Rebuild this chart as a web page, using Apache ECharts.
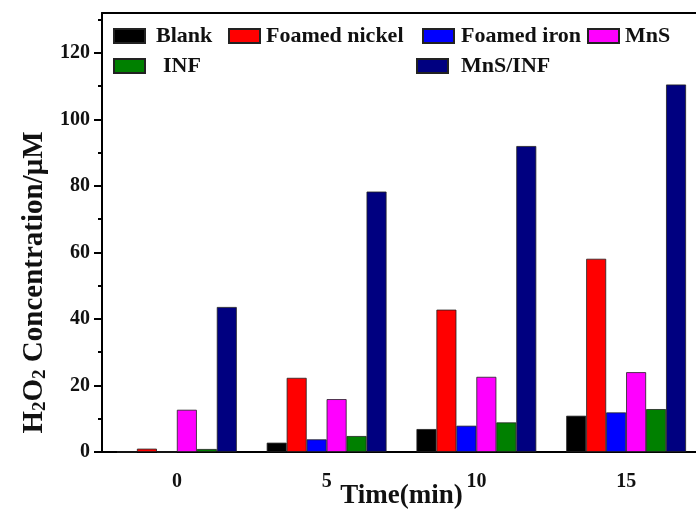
<!DOCTYPE html>
<html>
<head>
<meta charset="utf-8">
<script src="https://cdn.jsdelivr.net/npm/echarts@6/dist/echarts.min.js"></script>
<style>
html,body{margin:0;padding:0;background:#fff;}
#c{width:696px;height:515px;}
</style>
</head>
<body>
<div id="c"></div>
<script>
const categories = ['0', '5', '10', '15'];
const seriesNames = ['Blank', 'Foamed nickel', 'Foamed iron', 'MnS', 'INF', 'MnS/INF'];
const blank = [0, 2.8, 6.9, 10.9];
const foamedNickel = [1.0, 22.3, 42.8, 58.1];
const foamedIron = [0, 3.8, 7.9, 11.9];
const mns = [12.7, 15.9, 22.6, 24.0];
const inf = [0.9, 4.8, 8.9, 12.9];
const mnsInf = [43.6, 78.3, 92.0, 110.5];
const yTicks = [0, 20, 40, 60, 80, 100, 120];
const yMinorTicks = [10, 30, 50, 70, 90, 110, 130];

const seriesData = [blank, foamedNickel, foamedIron, mns, inf, mnsInf];
const colors = ['#000000', '#ff0000', '#0000ff', '#ff00ff', '#008000', '#000080'];
const FONT = "'Liberation Serif', 'Times New Roman', serif";

const legendPos = [
  {left: 113, top: 25, pad: 6},
  {left: 228, top: 25, pad: 1},
  {left: 422, top: 25, pad: 2},
  {left: 587, top: 25, pad: 1},
  {left: 113, top: 55, pad: 13},
  {left: 416, top: 55, pad: 8}
];

const chart = echarts.init(document.getElementById('c'), null, {renderer: 'canvas'});
chart.setOption({
  animation: false,
  backgroundColor: '#ffffff',
  grid: {left: 102, top: 13, width: 599, height: 439, containLabel: false, outerBoundsMode: 'none'},
  legend: seriesNames.map((n, i) => ({
    data: [n],
    left: legendPos[i].left,
    top: legendPos[i].top,
    padding: 0,
    itemWidth: 31,
    itemHeight: 14,
    selectedMode: false,
    icon: 'rect',
    textStyle: {fontFamily: FONT, fontWeight: 'bold', fontSize: 22, color: '#111', padding: [0, 0, 0, legendPos[i].pad]}
  })),
  xAxis: [
    {
      type: 'category',
      data: categories,
      position: 'bottom',
      axisLine: {lineStyle: {color: '#000', width: 2}},
      axisTick: {alignWithLabel: true, length: 8, lineStyle: {color: '#000', width: 2}},
      axisLabel: {fontFamily: FONT, fontWeight: 'bold', fontSize: 20, color: '#111', margin: 20},
      name: 'Time(min)',
      nameLocation: 'middle',
      nameGap: 31,
      nameMoveOverlap: false,
      nameTextStyle: {fontFamily: FONT, fontWeight: 'bold', fontSize: 27, color: '#111'}
    },
    {
      type: 'category',
      data: categories,
      position: 'bottom',
      axisLine: {show: false},
      axisTick: {alignWithLabel: false, length: 3, lineStyle: {color: '#000', width: 2}},
      axisLabel: {show: false}
    },
    {
      type: 'category',
      data: categories,
      position: 'top',
      axisLine: {lineStyle: {color: '#000', width: 2}},
      axisTick: {show: false},
      axisLabel: {show: false}
    }
  ],
  yAxis: [
    {
      type: 'value',
      min: 0,
      max: 132,
      position: 'left',
      splitLine: {show: false},
      axisLine: {show: true, lineStyle: {color: '#000', width: 2}},
      axisTick: {show: true, length: 8, customValues: yTicks, lineStyle: {color: '#000', width: 2}},
      axisLabel: {customValues: yTicks, fontFamily: FONT, fontWeight: 'bold', fontSize: 20, color: '#111', margin: 12},
      name: 'H{s|2}O{s|2} Concentration/μM',
      nameLocation: 'middle',
      nameGap: 52,
      nameMoveOverlap: false,
      nameTextStyle: {
        fontFamily: FONT, fontWeight: 'bold', fontSize: 29, color: '#111',
        padding: [0, 100, 0, 0],
        rich: {s: {fontFamily: FONT, fontWeight: 'bold', fontSize: 19, color: '#111', verticalAlign: 'bottom', padding: [11, 0, 0, 0]}}
      }
    },
    {
      type: 'value',
      min: 0,
      max: 132,
      position: 'left',
      splitLine: {show: false},
      axisLine: {show: false},
      axisTick: {show: true, length: 4, customValues: yMinorTicks, lineStyle: {color: '#000', width: 2}},
      axisLabel: {show: false}
    }
  ],
  series: seriesNames.map((n, i) => ({
    name: n,
    type: 'bar',
    xAxisIndex: 0,
    yAxisIndex: 0,
    data: seriesData[i],
    barGap: '0%',
    barCategoryGap: '20%',
    itemStyle: {color: colors[i], borderColor: '#222', borderWidth: 0.8}
  }))
});
</script>
</body>
</html>
